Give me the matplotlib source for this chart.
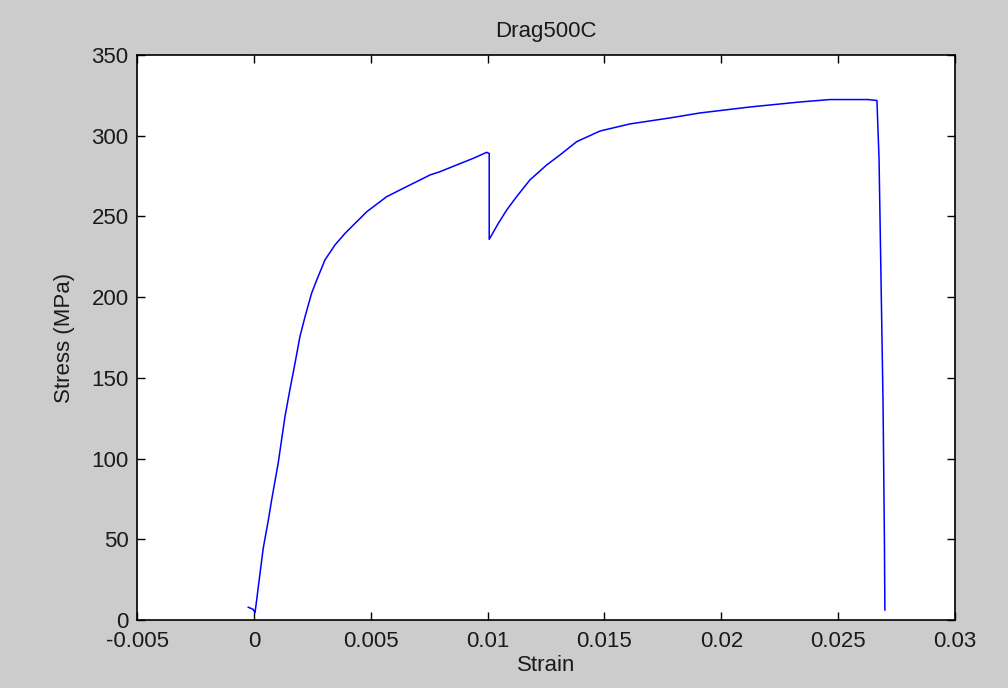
import matplotlib
matplotlib.use('Agg')
import matplotlib.pyplot as plt
import numpy as np

# stress-strain curve
strain = [-0.00024, -0.00003, 0.00005, 0.00040, 0.00062, 0.00076, 0.00104, 0.00133,
          0.00154, 0.00176, 0.00197, 0.00219, 0.00247, 0.00269, 0.00304, 0.00347,
          0.00390, 0.00440, 0.00483, 0.00568, 0.00639, 0.00754, 0.00796, 0.00868,
          0.00939, 0.00996, 0.01007, 0.01007, 0.01046, 0.01082, 0.01124, 0.01181,
          0.01253, 0.01310, 0.01381, 0.01481, 0.01609, 0.01780, 0.01909, 0.02123,
          0.02337, 0.02465, 0.02628, 0.02666, 0.02675, 0.02683, 0.02692, 0.02698,
          0.02700]
stress = [7.9, 6.6, 4.5, 44.4, 61.9, 74.3, 97.1, 125.9,
          142.5, 159.0, 175.5, 187.9, 202.4, 210.6, 223.0, 232.3,
          239.5, 246.7, 252.9, 262.2, 267.4, 275.7, 277.7, 281.9,
          286.0, 289.7, 289.0, 235.8, 245.7, 254.0, 262.2, 272.6,
          281.9, 288.1, 296.3, 302.9, 307.3, 311.0, 314.1, 317.8,
          320.9, 322.4, 322.4, 321.8, 285.6, 215.0, 135.7, 49.6,
          6.2]

xticks = [-0.005, 0, 0.005, 0.01, 0.015, 0.02, 0.025, 0.03]
xticklabels = ['-0.005', '0', '0.005', '0.01', '0.015', '0.02', '0.025', '0.03']
yticks = [0, 50, 100, 150, 200, 250, 300, 350]

plt.rcParams['font.family'] = ['Liberation Sans', 'DejaVu Sans']
plt.rcParams['font.size'] = 16

fig = plt.figure(figsize=(10.08, 6.88), dpi=100, facecolor='#cccccc')
ax = fig.add_axes([137/1008, 1-620/688, (955-137)/1008, (620-55)/688])
ax.set_facecolor('white')

ax.plot(strain, stress, color='#0000ff', lw=1.1)

ax.set_xlim(-0.005, 0.03)
ax.set_ylim(0, 350)
ax.set_xticks(xticks)
ax.set_xticklabels(xticklabels)
ax.set_yticks(yticks)
ax.tick_params(direction='in', length=6, width=1, top=True, right=True,
               pad=6, colors='black', labelcolor='#1a1a1a')
ax.tick_params(axis='x', pad=8)
for s in ax.spines.values():
    s.set_linewidth(1.2)

ax.set_title('Drag500C', fontsize=16, pad=13, color='#1a1a1a')
ax.set_xlabel('Strain', fontsize=16, labelpad=2, color='#1a1a1a')
ax.set_ylabel('Stress (MPa)', fontsize=16, labelpad=12, color='#1a1a1a')

fig.savefig('out.png', dpi=100, facecolor=fig.get_facecolor())
